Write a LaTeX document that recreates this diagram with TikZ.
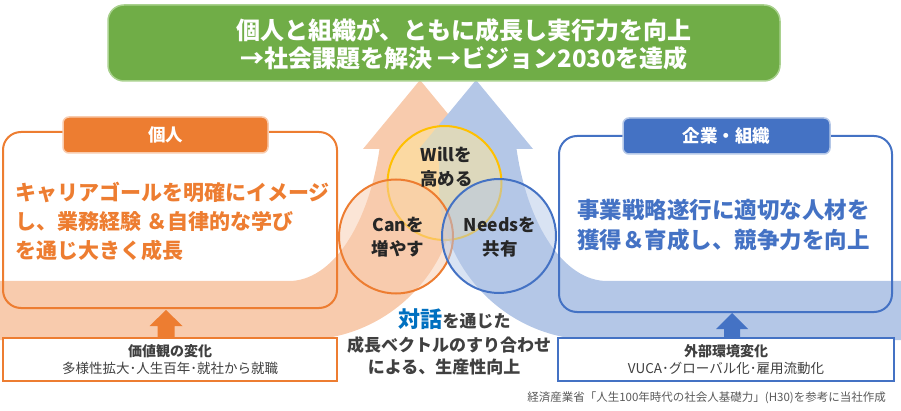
\documentclass[tikz,border=0pt]{standalone}
\usepackage{fontspec}
\setmainfont{Noto Sans CJK JP}
\usetikzlibrary{calc}
\definecolor{cOrange}{HTML}{ED7D31}
\definecolor{cOrangeL}{HTML}{F8CBAD}
\definecolor{cBlue}{HTML}{4472C4}
\definecolor{cBlueL}{HTML}{B4C7E7}
\definecolor{cBlueT}{HTML}{0070C0}
\definecolor{cGreen}{HTML}{70AD47}
\definecolor{cGreenL}{HTML}{A9D18E}
\definecolor{cGold}{HTML}{FFC000}
\definecolor{cGoldL}{HTML}{FFE699}
\definecolor{cText}{HTML}{262626}
\definecolor{cGray}{HTML}{404040}
\definecolor{cGray2}{HTML}{595959}
\begin{document}
\begin{tikzpicture}[x=1pt,y=1pt,
  goalbox/.style={fill=cGreen, draw=cGreenL, line width=1.5pt, rounded corners=16pt,
    minimum width=672pt, minimum height=76pt, inner sep=0pt},
  goaltext/.style={inner sep=0pt, text=white, align=center,
    font=\bfseries\fontsize{24}{28}\selectfont},
  outerframe/.style={line width=2pt, rounded corners=18pt, minimum height=176pt, inner sep=0pt},
  tabbox/.style={rounded corners=6pt, minimum width=205pt, minimum height=36pt, line width=1.5pt,
    inner sep=0pt, text=white, font=\bfseries\fontsize{17.5}{20}\selectfont},
  srcbox/.style={draw, fill=white, line width=2pt, minimum height=43pt, inner sep=0pt, align=center,
    text=cGray, font=\fontsize{13.5}{17}\selectfont},
  ring/.style={circle, minimum size=114pt, line width=2pt, inner sep=0pt},
  circtext/.style={text=cText, align=center, inner sep=0pt, font=\bfseries\fontsize{17.5}{24}\selectfont},
  midtext/.style={text=cGray, inner sep=0pt, font=\bfseries\fontsize{17}{20}\selectfont}
]
\useasboundingbox (0,0) rectangle (901,-411);

% background curved arrows
\fill[cOrangeL] (0,-281) -- (289,-281)
  arc[start angle=270, end angle=344.3, x radius=94pt, y radius=181pt]
  -- (363,-149) -- (420,-80) -- (477,-149) -- (457,-149) -- (457,-185)
  arc[start angle=0, end angle=-90, radius=155pt] -- (0,-340) -- cycle;
\fill[cBlueL] (901,-281) -- (607,-281)
  arc[start angle=270, end angle=195.7, x radius=94pt, y radius=181pt]
  -- (533,-149) -- (476,-80) -- (419,-149) -- (439,-149) -- (439,-185)
  arc[start angle=180, end angle=270, radius=155pt] -- (901,-340) -- cycle;

% goal
\node[goalbox] (goal) at (444,-43) {};
\node[goaltext] (goalt) at ($(goal)+(20,-1)$) {個人と組織が、ともに成長し実行力を向上\\→社会課題を解決 →ビジョン2030を達成};

% frames and tabs
\node[outerframe, draw=cOrange, minimum width=334pt] (indbox) at (170,-220) {};
\node[outerframe, draw=cBlue, minimum width=333pt] (orgbox) at (725.5,-224) {};
\node[tabbox, fill=cOrange, draw=cOrangeL] (indtab) at (165.5,-135) {個人};
\node[tabbox, fill=cBlue, draw=cBlueL, minimum width=207pt] (orgtab) at (726.5,-136) {企業・組織};

\node[anchor=west, inner sep=0pt, align=left, text=cOrange,
  font=\bfseries\fontsize{21}{29}\selectfont] (indtext) at (15,-221.5)
  {キャリアゴールを明確にイメージ\\し、業務経験 ＆自律的な学び\\を通じ大きく成長};
\node[anchor=west, inner sep=0pt, align=left, text=cBlue,
  font=\bfseries\fontsize{22.5}{30}\selectfont] (orgtext) at (577,-225)
  {事業戦略遂行に適切な人材を\\獲得＆育成し、競争力を向上};

% circles
\node[ring, draw=cGold, fill=cGoldL, fill opacity=0.55] (will) at (444.5,-183) {};
\node[ring, draw=cOrange, fill=cOrangeL, fill opacity=0.5] (can) at (396,-236.5) {};
\node[ring, draw=cBlue, fill=cBlueL, fill opacity=0.5] (needs) at (499,-236) {};
\node[circtext] (willt) at ($(will)+(2,16)$) {Willを\\高める};
\node[circtext] (cant) at ($(can)+(2,-0.5)$) {Canを\\増やす};
\node[circtext] (needst) at ($(needs)+(1,-1)$) {Needsを\\共有};

% source boxes
\node[srcbox, draw=cOrange, minimum width=334pt] (vb) at (170,-359.5)
  {{\bfseries\fontsize{14}{17}\selectfont 価値観の変化}\\多様性拡大･人生百年･就社から就職};
\node[srcbox, draw=cBlue, minimum width=336pt] (eb) at (726,-359.5)
  {{\bfseries\fontsize{14}{17}\selectfont 外部環境変化}\\VUCA･グローバル化･雇用流動化};

% up arrows
\fill[cOrange] ($(vb.north)+(-12.5,0)$) -- ($(vb.north)+(-12.5,11)$) -- ($(vb.north)+(-20.5,11)$)
  -- ($(vb.north)+(-4,27)$) -- ($(vb.north)+(12.5,11)$) -- ($(vb.north)+(4.5,11)$)
  -- ($(vb.north)+(4.5,0)$) -- cycle;
\fill[cBlue] ($(eb.north)+(-2,0)$) -- ($(eb.north)+(-2,8)$) -- ($(eb.north)+(-10,8)$)
  -- ($(eb.north)+(6,24)$) -- ($(eb.north)+(22,8)$) -- ($(eb.north)+(14,8)$)
  -- ($(eb.north)+(14,0)$) -- cycle;

% middle text
\node[midtext] (dlg1) at (454.5,-319) {{\color{cBlueT}\fontsize{22}{24}\selectfont 対話}を通じた};
\node[midtext] (dlg2) at (449,-345) {成長ベクトルのすり合わせ};
\node[midtext] (dlg3) at (444,-367) {による、生産性向上};

% footer
\node[anchor=east, inner sep=0pt, text=cGray2, font=\fontsize{11.5}{13}\selectfont] (src) at (886,-398)
  {経済産業省「人生100年時代の社会人基礎力」(H30)を参考に当社作成};
\end{tikzpicture}
\end{document}
